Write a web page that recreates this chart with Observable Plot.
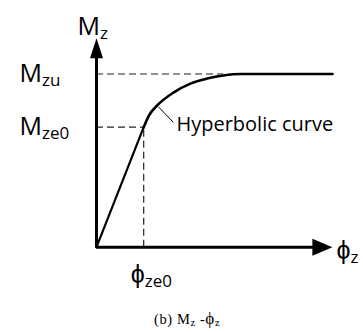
<!DOCTYPE html>
<html>
<head>
<meta charset="utf-8">
<script src="https://cdn.jsdelivr.net/npm/d3@7"></script>
<script src="https://cdn.jsdelivr.net/npm/@observablehq/plot@0.6"></script>
<style>
  html, body { margin: 0; padding: 0; background: #fff; }
  #chart { width: 363px; height: 310px; }
  #caption {
    font-family: "Liberation Serif", "Times New Roman", serif;
    font-size: 14.5px; line-height: 17px; height: 22px; letter-spacing: 0.6px;
    padding-left: 154px; white-space: nowrap; color: #000;
  }
  #caption sub { font-size: 10.5px; vertical-align: baseline; position: relative; top: 2px; }
  #caption .phi { font-size: 17px; }
</style>
</head>
<body>
<div id="chart"></div>
<div id="caption">(b) M<sub>z</sub> -<span class="phi">ϕ</span><sub>z</sub></div>
<script>
// Moment–twist law: linear elastic branch up to (ϕze0, Mze0),
// then a hyperbolic branch that levels off at the ultimate moment Mzu.
const phiZe0 = 2.0;
const mZe0 = 5.75;
const mZu = 8.3;

const elasticPhi = [0, phiZe0];
const elasticM = [0, mZe0];

const hyperPhi = [2.0, 2.22, 2.57, 3.26, 3.98, 4.69, 5.38, 6.1, 10];
const hyperM   = [5.75, 6.31, 6.79, 7.41, 7.84, 8.08, 8.23, 8.3, 8.3];

// Axis polyline: from the M arrowhead base down to the origin, then out to the ϕ arrowhead base
const axisPhi = [0, 0, 9.19];
const axisM   = [9.1, 0, 0];
const axisMax = 10;

// Axis titles and tick labels; "_" marks the subscript
const mTitle = "M_z";
const phiTitle = "ϕ_z";
const mTicks = [mZu, mZe0];
const mTickLabels = ["M_zu", "M_ze0"];
const phiTicks = [phiZe0];
const phiTickLabels = ["ϕ_ze0"];

// Callout for the hyperbolic branch
const calloutFrom = [2.63, 6.72];
const calloutTo = [3.26, 5.98];
const calloutText = "Hyperbolic curve";

const ns = "http://www.w3.org/2000/svg";

// Filled triangular arrowhead; its base is centred on the dot, tip pointing up before rotation
function arrowHead(len, wid) {
  return {
    draw(ctx) {
      ctx.moveTo(-wid / 2, 1);
      ctx.lineTo(0, -len);
      ctx.lineTo(wid / 2, 1);
      ctx.closePath();
    }
  };
}

const dash = {stroke: "#222", strokeWidth: 1.2, strokeDasharray: "7,4"};
const label = {textAnchor: "start", lineAnchor: "bottom", fontSize: 25, fill: "#000"};

const chart = Plot.plot({
  width: 363,
  height: 310,
  marginLeft: 96,
  marginRight: 31,
  marginTop: 38,
  marginBottom: 63.3,
  style: {fontFamily: "'Open Sans', sans-serif", color: "#000", background: "#fff", overflow: "visible"},
  x: {domain: [0, axisMax], axis: null},
  y: {domain: [0, axisMax], axis: null},
  marks: [
    // dashed guides to Mzu, Mze0 and ϕze0
    Plot.ruleY([mZu], {x1: 0, x2: 5.4, ...dash}),
    Plot.ruleY([mZe0], {x1: 0, x2: phiZe0, ...dash}),
    Plot.ruleX([phiZe0], {y1: 0, y2: mZe0, ...dash}),

    // axes
    Plot.line(axisPhi, {
      x: (d) => d, y: (d, i) => axisM[i],
      stroke: "#000", strokeWidth: 3, strokeLinejoin: "miter"
    }),
    // arrowheads at the axis ends
    Plot.dot([0], {x: axisPhi[0], y: axisM[0], symbol: arrowHead(19, 13), fill: "#000", stroke: "none"}),
    Plot.dot([0], {x: axisPhi[2], y: axisM[2], symbol: arrowHead(19, 17), rotate: 90, fill: "#000", stroke: "none"}),

    // elastic branch
    Plot.line(elasticPhi, {x: (d) => d, y: (d, i) => elasticM[i], stroke: "#000", strokeWidth: 2.2}),
    // hyperbolic branch
    Plot.line(hyperPhi, {x: (d) => d, y: (d, i) => hyperM[i], stroke: "#000", strokeWidth: 2.6, curve: "monotone-x"}),

    // callout leader and text
    Plot.link([0], {x1: calloutFrom[0], y1: calloutFrom[1], x2: calloutTo[0], y2: calloutTo[1], stroke: "#000", strokeWidth: 1}),
    Plot.text([calloutText], {x: calloutTo[0], y: calloutTo[1], text: (d) => d, textAnchor: "start", lineAnchor: "bottom", dx: 3, dy: 9, fontSize: 20, fill: "#000"}),

    // axis titles at the arrow tips
    Plot.text([mTitle], {x: 0, y: axisMax, text: (d) => d, ...label, dx: -19, dy: -4}),
    Plot.text([phiTitle], {x: axisMax, y: 0, text: (d) => d, ...label, dx: 4, dy: 12}),
    // M tick labels
    Plot.text(mTickLabels, {x: 0, y: (d, i) => mTicks[i], text: (d) => d, ...label, dx: -77, dy: 8}),
    // ϕ tick labels
    Plot.text(phiTickLabels, {x: (d, i) => phiTicks[i], y: 0, text: (d) => d, ...label, dx: -13, dy: 36})
  ]
});

// Turn "X_sub" strings into a main glyph plus a lowered, smaller subscript
chart.querySelectorAll("text").forEach((t) => {
  if (!t.textContent.includes("_")) return;
  const [main, sub] = t.textContent.split("_");
  while (t.firstChild) t.removeChild(t.firstChild);
  const a = document.createElementNS(ns, "tspan");
  a.textContent = main;
  const b = document.createElementNS(ns, "tspan");
  b.textContent = sub;
  b.setAttribute("font-size", 17);
  b.setAttribute("dy", 4);
  t.append(a, b);
});

document.getElementById("chart").append(chart);
</script>
</body>
</html>
